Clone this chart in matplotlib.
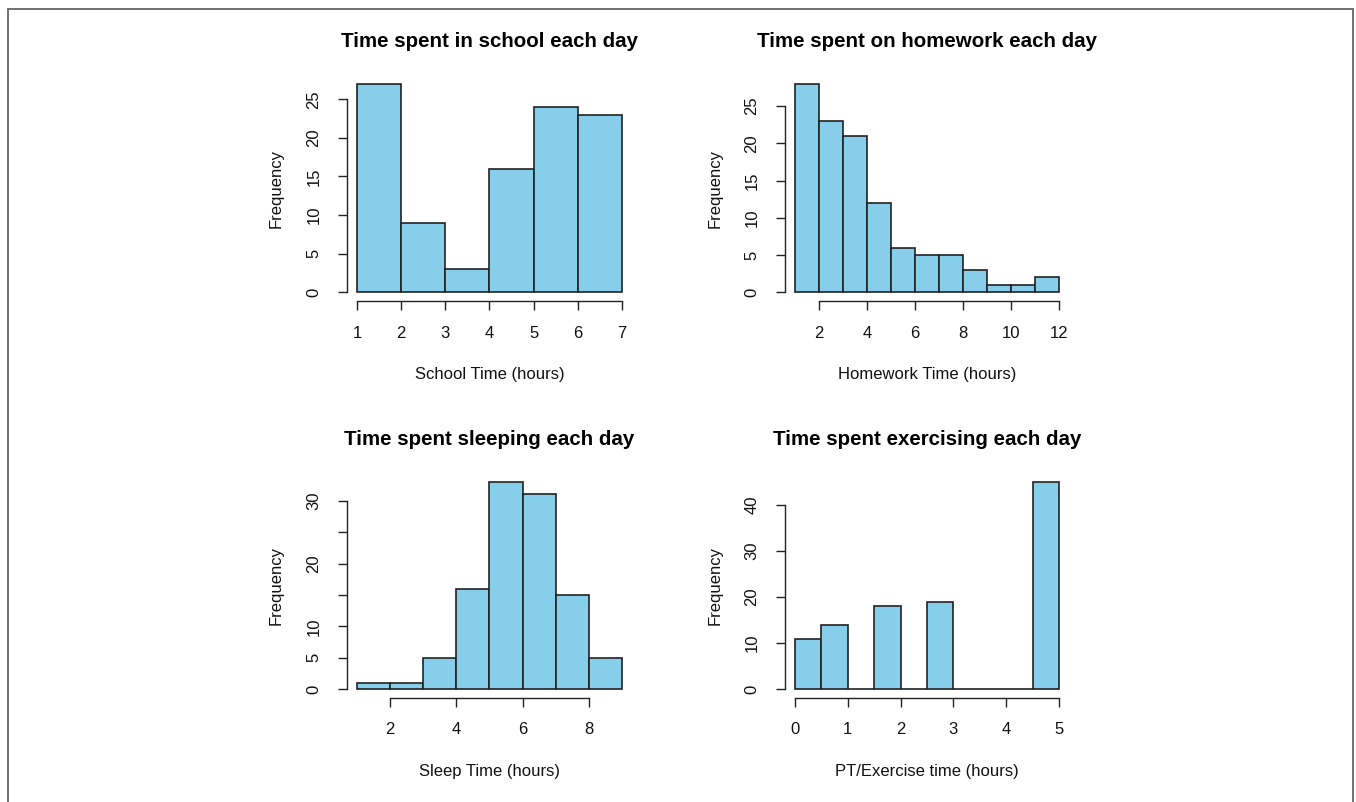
import matplotlib
matplotlib.use("Agg")
import matplotlib.pyplot as plt
import numpy as np
from matplotlib.patches import Rectangle

plt.rcParams["font.family"] = ["Liberation Sans", "DejaVu Sans"]

# Datos de los histogramas (límites de clase y frecuencias)
school_bins = [1, 2, 3, 4, 5, 6, 7]
school_counts = [27, 9, 3, 16, 24, 23]
school_xticks = [1, 2, 3, 4, 5, 6, 7]
school_yticks = [0, 5, 10, 15, 20, 25]
school_ylabels = ["0", "5", "10", "15", "20", "25"]

homework_bins = [1, 2, 3, 4, 5, 6, 7, 8, 9, 10, 11, 12]
homework_counts = [28, 23, 21, 12, 6, 5, 5, 3, 1, 1, 2]
homework_xticks = [2, 4, 6, 8, 10, 12]
homework_yticks = [0, 5, 10, 15, 20, 25]
homework_ylabels = ["0", "5", "10", "15", "20", "25"]

sleep_bins = [1, 2, 3, 4, 5, 6, 7, 8, 9]
sleep_counts = [1, 1, 5, 16, 33, 31, 15, 5]
sleep_xticks = [2, 4, 6, 8]
sleep_yticks = [0, 5, 10, 15, 20, 25, 30]
sleep_ylabels = ["0", "5", "10", "", "20", "", "30"]

exercise_bins = [0, 0.5, 1, 1.5, 2, 2.5, 3, 3.5, 4, 4.5, 5]
exercise_counts = [11, 14, 0, 18, 0, 19, 0, 0, 0, 45]
exercise_xticks = [0, 1, 2, 3, 4, 5]
exercise_yticks = [0, 10, 20, 30, 40]
exercise_ylabels = ["0", "10", "20", "30", "40"]

W, H = 1356, 802
fig = plt.figure(figsize=(W / 100, H / 100), dpi=100)

# marco gris alrededor de la figura (sin borde inferior visible)
fig.patches.append(Rectangle((8 / W, -0.05), (1352.5 - 8) / W, 1.05 - 9.3 / H,
                             transform=fig.transFigure, fill=False,
                             edgecolor="#666666", linewidth=1.3))

COL = "#87CEEB"
AX_COL = "#222222"


def histograma(rect, bins, counts, xticks, yticks, ylabels, titulo, xlab):
    ax = fig.add_axes(rect)
    bins = np.array(bins, dtype=float)
    ax.bar(bins[:-1], counts, width=np.diff(bins), align="edge",
           color=COL, edgecolor=AX_COL, linewidth=1.2)
    rx = bins[-1] - bins[0]
    ax.set_xlim(bins[0] - 0.04 * rx, bins[-1] + 0.04 * rx)
    ymax = max(counts)
    ax.set_ylim(-0.04 * ymax, 1.04 * ymax)
    for s in ["top", "right"]:
        ax.spines[s].set_visible(False)
    for s in ["left", "bottom"]:
        ax.spines[s].set_color(AX_COL)
        ax.spines[s].set_linewidth(1.0)
    ax.spines["bottom"].set_bounds(xticks[0], xticks[-1])
    ax.spines["left"].set_bounds(yticks[0], yticks[-1])
    ax.set_xticks(xticks)
    ax.set_xticklabels([str(t) for t in xticks])
    ax.set_yticks(yticks)
    ax.set_yticklabels(ylabels, rotation=90, va="center")
    ax.tick_params(direction="out", length=6.5, width=1.0, color=AX_COL,
                   labelsize=12, pad=11.5, labelcolor="#111111")
    ax.set_title(titulo, fontsize=14.8, fontweight="bold", y=1.127, pad=0,
                 va="baseline", color="#000000")
    ax.set_xlabel(xlab, fontsize=12, color="#111111")
    ax.xaxis.set_label_coords(0.5, -0.331)
    ax.xaxis.label.set_va("center")
    ax.set_ylabel("Frequency", fontsize=12, color="#111111")
    ax.yaxis.set_label_coords(-0.245, 0.5)
    ax.yaxis.label.set_va("center")
    return ax


def rect_px(x0, y0, x1, y1):
    return [x0 / W, 1 - y1 / H, (x1 - x0) / W, (y1 - y0) / H]


histograma(rect_px(346.5, 75.5, 632.5, 300.5), school_bins, school_counts,
           school_xticks, school_yticks, school_ylabels,
           "Time spent in school each day", "School Time (hours)")
histograma(rect_px(784.5, 75.5, 1069.5, 300.5), homework_bins, homework_counts,
           homework_xticks, homework_yticks, homework_ylabels,
           "Time spent on homework each day", "Homework Time (hours)")
histograma(rect_px(346.5, 473.5, 632.5, 697.5), sleep_bins, sleep_counts,
           sleep_xticks, sleep_yticks, sleep_ylabels,
           "Time spent sleeping each day", "Sleep Time (hours)")
histograma(rect_px(784.5, 473.5, 1069.5, 697.5), exercise_bins, exercise_counts,
           exercise_xticks, exercise_yticks, exercise_ylabels,
           "Time spent exercising each day", "PT/Exercise time (hours)")

fig.savefig("out.png", dpi=100)
